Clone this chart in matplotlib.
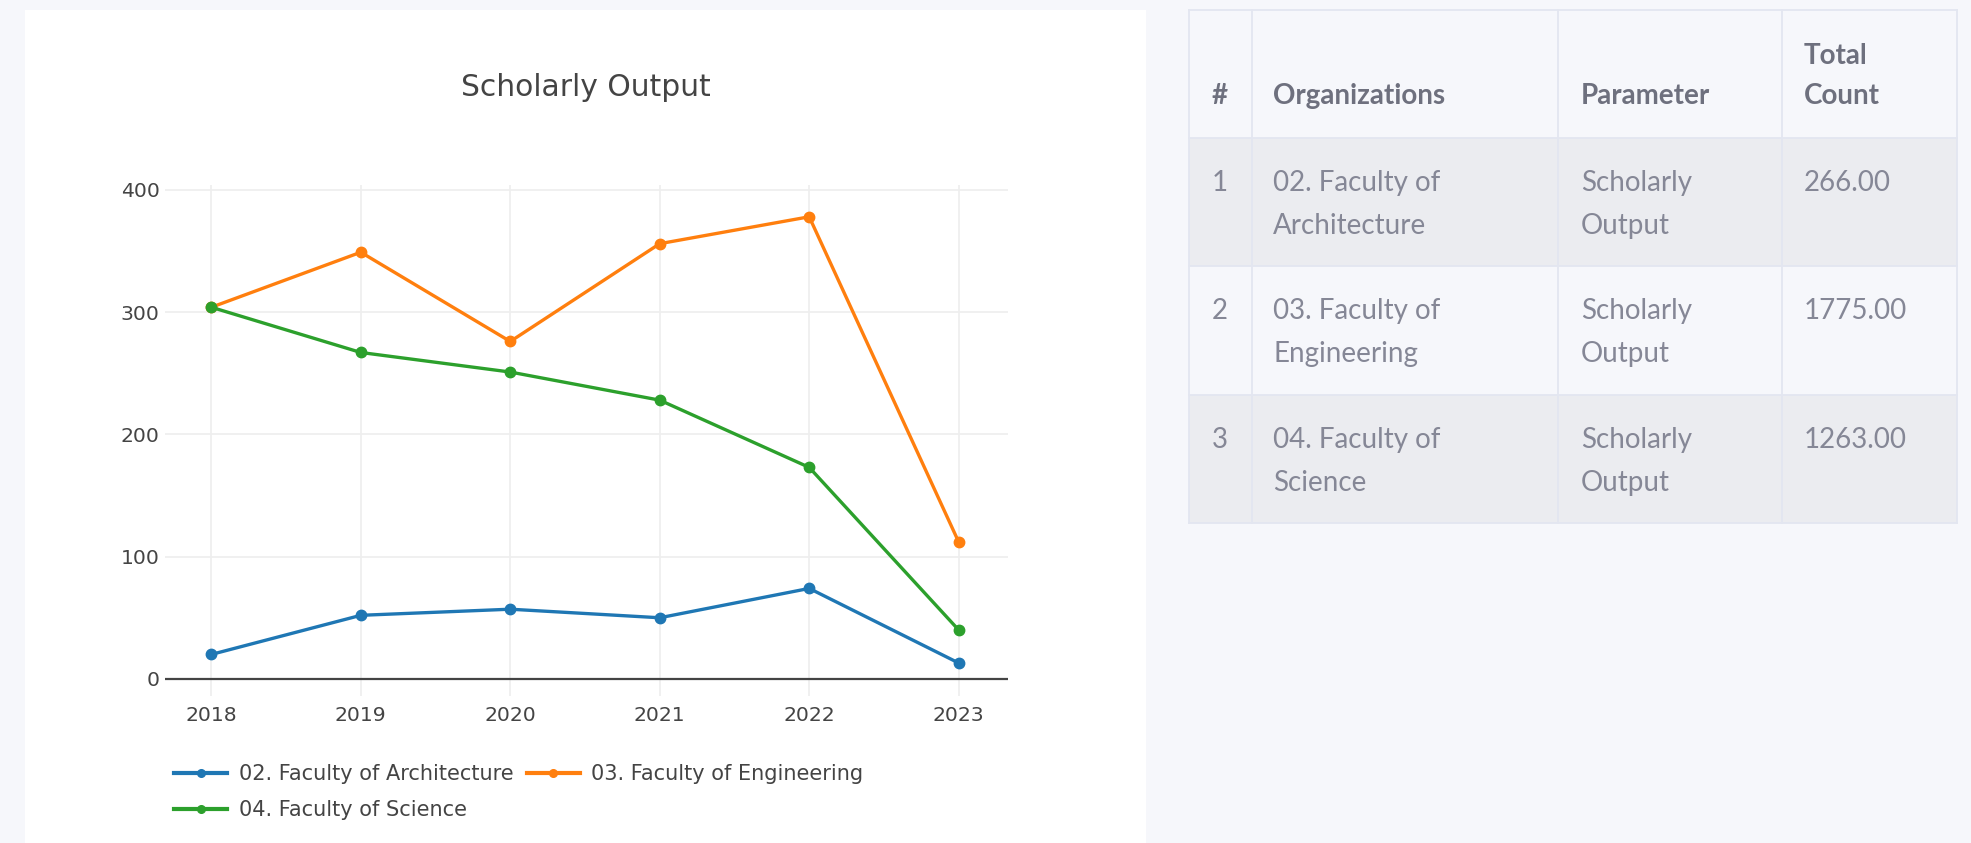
import matplotlib

matplotlib.use("Agg")
import matplotlib.pyplot as plt  # noqa: E402
from matplotlib.lines import Line2D  # noqa: E402
from matplotlib.patches import Rectangle  # noqa: E402

W, H = 1971, 843

years = [2018, 2019, 2020, 2021, 2022, 2023]
architecture = [20, 52, 57, 50, 74, 13]
engineering = [304, 349, 276, 356, 378, 112]
science = [304, 267, 251, 228, 173, 40]

series_names = [
    "02. Faculty of Architecture",
    "03. Faculty of Engineering",
    "04. Faculty of Science",
]
series_colors = ["#1f77b4", "#ff7f0e", "#2ca02c"]

table_header = ["#", "Organizations", "Parameter", "Total\nCount"]
table_rank = ["1", "2", "3"]
table_orgs = ["02. Faculty of\nArchitecture", "03. Faculty of\nEngineering", "04. Faculty of\nScience"]
table_param = ["Scholarly\nOutput"] * 3
table_total = [266.00, 1775.00, 1263.00]

CHART_FONT = "DejaVu Sans"  # stands in for Verdana

fig = plt.figure(figsize=(W / 100, H / 100), dpi=100)
fig.patch.set_facecolor("#f6f7fb")

# pixel-space backdrop for the card and the table
bg = fig.add_axes([0, 0, 1, 1], zorder=0)
bg.set_xlim(0, W)
bg.set_ylim(H, 0)
bg.axis("off")
bg.add_patch(Rectangle((25, 10), 1121, 840, facecolor="white", edgecolor="none"))

# chart
ax = fig.add_axes([165 / W, 1 - 696 / H, (1008 - 165) / W, (696 - 185) / H], zorder=1)
ax.set_facecolor("none")
for name, vals, col in zip(series_names, [architecture, engineering, science], series_colors):
    ax.plot(years, vals, color=col, lw=2.4, marker="o", ms=7.5, label=name, zorder=3)

ax.set_xlim(2017.69, 2023.33)
ax.set_ylim(-14, 404)
ax.set_xticks(years)
ax.set_yticks([0, 100, 200, 300, 400])
ax.grid(True, color="#eeeeee", lw=1.2, zorder=0)
ax.axhline(0, color="#444444", lw=1.6, zorder=2)
for s in ax.spines.values():
    s.set_visible(False)
ax.tick_params(length=0, labelsize=14.7, labelcolor="#444444", pad=4)
ax.tick_params(axis="x", pad=7)
for lab in ax.get_xticklabels() + ax.get_yticklabels():
    lab.set_fontfamily(CHART_FONT)

fig.text(586 / W, 1 - 88 / H, "Scholarly Output", ha="center", va="center",
         fontsize=21.4, color="#444444", family=CHART_FONT)

# plotly fills the legend row by row; matplotlib fills columns, so reorder
order = [0, 2, 1]
handles = [Line2D([], [], color=series_colors[i], lw=3, marker="o", ms=5.5) for i in order]
leg = fig.legend(
    handles, [series_names[i] for i in order],
    loc="upper left", bbox_to_anchor=(174 / W, 1 - 764 / H), bbox_transform=fig.transFigure,
    ncol=2, frameon=False, numpoints=1, borderpad=0, borderaxespad=0,
    handlelength=2.55, handletextpad=0.55, columnspacing=0.65, labelspacing=0.78,
    prop={"family": CHART_FONT, "size": 15},
)
for t in leg.get_texts():
    t.set_color("#444444")

# table
col_x = [1189, 1252, 1558, 1782, 1957]
row_y = [10, 138, 266, 395, 523]
border = "#e3e6f0"
stripe = "#ebecf0"
for i in range(3):
    if i % 2 == 0:
        bg.add_patch(Rectangle((col_x[0], row_y[i + 1]), col_x[-1] - col_x[0],
                               row_y[i + 2] - row_y[i + 1], facecolor=stripe, edgecolor="none"))
for x in col_x:
    bg.plot([x, x], [row_y[0], row_y[-1]], color=border, lw=1.3)
for y in row_y:
    bg.plot([col_x[0], col_x[-1]], [y, y], color=border, lw=1.3)

pad_x = [23, 21, 23, 22]
for j, head in enumerate(table_header):
    bg.text(col_x[j] + pad_x[j], 96, head.split("\n")[-1], ha="left", va="center",
            fontsize=20, fontweight="bold", color="#6e707e", family="Lato")
    if "\n" in head:
        bg.text(col_x[j] + pad_x[j], 56, head.split("\n")[0], ha="left", va="center",
                fontsize=20, fontweight="bold", color="#6e707e", family="Lato")

body_color = "#858796"
for i in range(3):
    top = row_y[i + 1]
    cells = [table_rank[i], table_orgs[i], table_param[i], f"{table_total[i]:.2f}"]
    for j, cell in enumerate(cells):
        for k, line in enumerate(cell.split("\n")):
            bg.text(col_x[j] + pad_x[j], top + 45 + 43 * k, line, ha="left", va="center",
                    fontsize=20, color=body_color, family="Lato")

fig.savefig("out.png", dpi=100, facecolor=fig.get_facecolor())
